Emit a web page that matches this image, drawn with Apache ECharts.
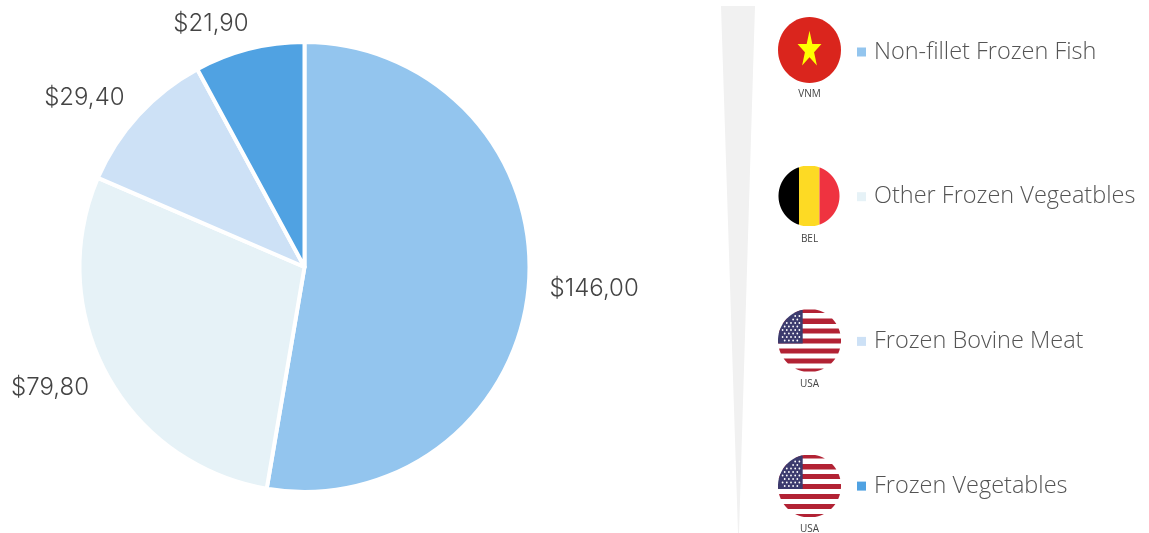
<!DOCTYPE html>
<html>
<head>
<meta charset="utf-8">
<style>
  html, body { margin: 0; padding: 0; background: #fff; }
  #chart { width: 1149px; height: 533px; }
</style>
<script src="https://cdn.jsdelivr.net/npm/echarts@6/dist/echarts.min.js"></script>
</head>
<body>
<div id="chart"></div>
<script>
var categories = ['Non-fillet Frozen Fish', 'Other Frozen Vegeatbles', 'Frozen Bovine Meat', 'Frozen Vegetables'];
var values = [146.0, 79.8, 29.4, 21.9];
var sliceColors = ['#93c5ee', '#e6f2f7', '#cde1f6', '#50a2e2'];
var countryCodes = ['VNM', 'BEL', 'USA', 'USA'];

// builds a shape for the part of a circle inside a box, so flags stay round
function band(cx, cy, r, x0, x1, y0, y1, fill) {
  var left = [], right = [];
  var top = Math.max(y0, cy - r), bottom = Math.min(y1, cy + r);
  for (var y = top; y <= bottom + 0.001; y += 0.5) {
    var half = Math.sqrt(Math.max(0, r * r - (y - cy) * (y - cy)));
    var a = Math.max(x0, cx - half), b = Math.min(x1, cx + half);
    if (b > a) { left.push([a, y]); right.unshift([b, y]); }
  }
  return { type: 'polygon', silent: true, shape: { points: left.concat(right) }, style: { fill: fill } };
}

function flagVietnam(cx, cy) {
  var pts = [];
  for (var i = 0; i < 10; i++) {
    var k = i % 2 ? 0.382 : 1;
    var ang = -Math.PI / 2 + i * Math.PI / 5;
    pts.push([cx + 12.6 * k * Math.cos(ang), cy + 19.3 * k * Math.sin(ang)]);
  }
  return [
    { type: 'ellipse', silent: true, shape: { cx: cx, cy: cy, rx: 31.5, ry: 33 }, style: { fill: '#da251d' } },
    { type: 'polygon', silent: true, shape: { points: pts }, style: { fill: '#ffff00' } }
  ];
}

function flagBelgium(cx, cy) {
  var r = 30.5;
  return [
    band(cx, cy, r, cx - r, cx - 10, cy - r, cy + r, '#000000'),
    band(cx, cy, r, cx - 10, cx + 10.5, cy - r, cy + r, '#fdda24'),
    band(cx, cy, r, cx + 10.5, cx + r, cy - r, cy + r, '#ef3340')
  ];
}

function flagUsa(cx, cy) {
  var r = 31.5, out = [];
  var stripes = [[-31.5, -27.5], [-22, -16.5], [-12, -7], [-2, 3], [8, 13], [18, 23], [28, 31.5]];
  stripes.forEach(function (s) {
    out.push(band(cx, cy, r, cx - r, cx + r, cy + s[0], cy + s[1], '#b22234'));
  });
  out.push(band(cx, cy, r, cx - r, cx - 6.8, cy - r, cy + 3, '#3c3b6e'));
  for (var row = 0; row < 9; row++) {
    for (var col = 0; col < 6; col++) {
      var sx = cx - 29 + col * 4.2 + (row % 2 ? 2.1 : 0);
      var sy = cy - 28 + row * 3.5;
      if ((sx - cx) * (sx - cx) + (sy - cy) * (sy - cy) < 29 * 29 && sx < cx - 8) {
        out.push({ type: 'circle', silent: true, shape: { cx: sx, cy: sy, r: 0.9 }, style: { fill: '#ffffff' } });
      }
    }
  }
  return out;
}

var flags = flagVietnam(809.5, 50)
  .concat(flagBelgium(809, 196))
  .concat(flagUsa(809.5, 340.5))
  .concat(flagUsa(809.5, 486));

var codeY = [94, 239, 384, 529];
var codeLabels = countryCodes.map(function (code, i) {
  return {
    type: 'text', silent: true, x: 809.5, y: codeY[i],
    style: { text: code, fill: '#444444', font: '400 10px "Open Sans"', align: 'center', verticalAlign: 'middle' }
  };
});

var wedge = {
  type: 'polygon', silent: true, z: -1,
  shape: { points: [[721, 6], [755, 6], [739, 533], [738, 533]] },
  style: { fill: '#f1f1f1' }
};

var myChart = echarts.init(document.getElementById('chart'), null, { renderer: 'canvas' });
myChart.setOption({
  animation: false,
  color: sliceColors,
  legend: {
    orient: 'vertical',
    left: 857,
    top: 35,
    padding: 0,
    icon: 'rect',
    itemWidth: 9,
    itemHeight: 9,
    itemGap: 110.7,
    itemStyle: { borderWidth: 0 },
    selectedMode: false,
    textStyle: { color: '#545454', fontFamily: 'Open Sans', fontWeight: 300, fontSize: 23.5, lineHeight: 34, padding: [0, 0, 0, 3] },
    data: categories
  },
  graphic: { elements: [wedge].concat(flags).concat(codeLabels) },
  series: [{
    type: 'pie',
    center: [304.5, 267],
    radius: [0, 225],
    startAngle: 90,
    silent: true,
    avoidLabelOverlap: false,
    itemStyle: { borderColor: '#ffffff', borderWidth: 4 },
    label: {
      show: true,
      position: 'outside',
      overflow: 'none',
      color: '#444444',
      fontFamily: 'Inter',
      fontWeight: 300,
      fontSize: 24,
      formatter: function (p) { return '$' + p.value.toFixed(2).replace('.', ','); }
    },
    labelLine: { show: false, length: 27, length2: -11 },
    labelLayout: { dy: 1 },
    data: categories.map(function (name, i) {
      return { name: name, value: values[i] };
    })
  }]
});
</script>
</body>
</html>
